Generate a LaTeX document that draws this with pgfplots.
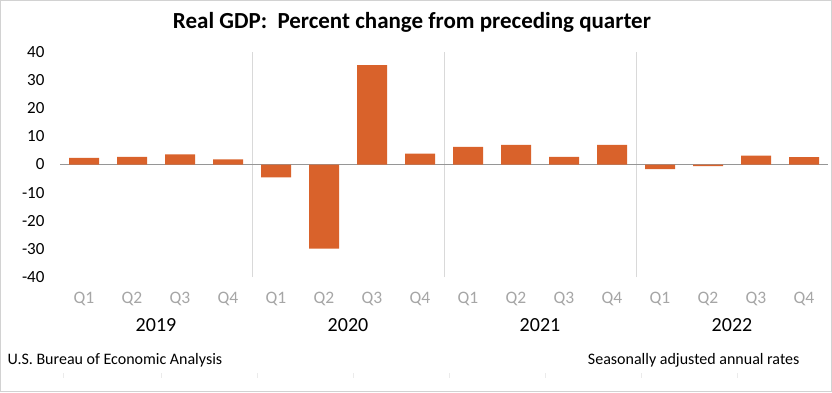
\documentclass[border=0pt]{standalone}
\usepackage{pgfplots}
\pgfplotsset{compat=1.18}
\usepackage{fontspec}
\setmainfont{Carlito}
\definecolor{barc}{RGB}{217,98,43}
\definecolor{qgray}{RGB}{166,166,166}
\definecolor{zgray}{RGB}{150,150,150}
\definecolor{sepgray}{RGB}{217,217,217}
\definecolor{framegray}{RGB}{210,210,210}
\begin{document}
\begin{tikzpicture}
\path[use as bounding box] (0pt,0pt) rectangle (832pt,392pt);
\draw[framegray, line width=1pt] (0.5pt,0.5pt) rectangle (831.5pt,391.5pt);
\node[font=\fontsize{23}{23}\selectfont\bfseries] at (412pt,370pt) {Real GDP:\ \ Percent change from preceding quarter};
\begin{axis}[at={(60pt,115pt)}, anchor=south west, scale only axis,
  width=768pt, height=225pt,
  xmin=-0.5, xmax=15.5, ymin=-40, ymax=40,
  ytick={-40,-30,...,40},
  xtick={0,...,15},
  xticklabels={Q1,Q2,Q3,Q4,Q1,Q2,Q3,Q4,Q1,Q2,Q3,Q4,Q1,Q2,Q3,Q4},
  axis line style={draw=none},
  major tick style={draw=none},
  /pgf/number format/assume math mode=true,
  yticklabel style={font=\fontsize{17}{17}\selectfont, anchor=east, xshift=-12pt},
  xticklabel style={font=\fontsize{17.5}{17.5}\selectfont, text=qgray, yshift=-12pt},
  extra x ticks={3.5,7.5,11.5},
  extra x tick labels={},
  extra x tick style={grid=major, major grid style={draw=sepgray, line width=0.8pt}, major tick style={draw=none}},
  extra y ticks={0},
  extra y tick labels={},
  extra y tick style={grid=major, major grid style={draw=zgray, line width=1.5pt}, major tick style={draw=none}},
  clip=false,
]
\addplot[ybar, bar width=30pt, fill=barc, draw=none] coordinates {
 (0,2.4) (1,2.7) (2,3.6) (3,1.8)
 (4,-4.6) (5,-29.9) (6,35.3) (7,3.9)
 (8,6.3) (9,7.0) (10,2.7) (11,7.0)
 (12,-1.6) (13,-0.6) (14,3.2) (15,2.6)};
\node[font=\fontsize{20}{20}\selectfont] at (axis cs:1.5,-40) [yshift=-48pt] {2019};
\node[font=\fontsize{20}{20}\selectfont] at (axis cs:5.5,-40) [yshift=-48pt] {2020};
\node[font=\fontsize{20}{20}\selectfont] at (axis cs:9.5,-40) [yshift=-48pt] {2021};
\node[font=\fontsize{20}{20}\selectfont] at (axis cs:13.5,-40) [yshift=-48pt] {2022};
\end{axis}
\node[anchor=west, font=\fontsize{16}{16}\selectfont] at (4pt,32pt) {U.S. Bureau of Economic Analysis};
\node[anchor=east, font=\fontsize{16}{16}\selectfont] at (803pt,32pt) {Seasonally adjusted annual rates};
\foreach \xx in {63,161,257,353,449,545,641,737} {
  \draw[black!8, line width=0.8pt] (\xx pt,14pt) -- (\xx pt,19pt);
}
\end{tikzpicture}
\end{document}
